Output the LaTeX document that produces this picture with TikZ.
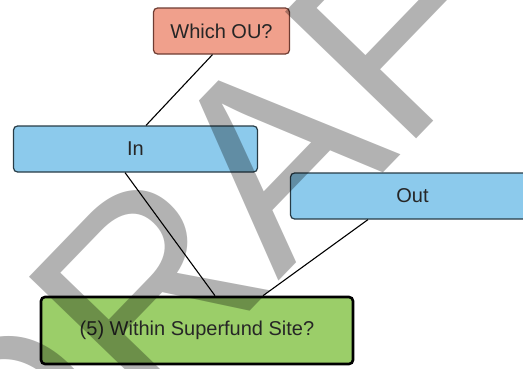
\documentclass[tikz,border=0pt]{standalone}
\usepackage{fontspec}
\setmainfont{Liberation Sans}
\definecolor{ouFill}{RGB}{240,160,140}
\definecolor{ouLine}{RGB}{110,60,50}
\definecolor{sideFill}{RGB}{140,202,236}
\definecolor{sideLine}{RGB}{40,60,70}
\definecolor{siteFill}{RGB}{155,206,105}
\tikzstyle{every picture}=[x=1pt,y=1pt]
\tikzstyle{box}=[rectangle, rounded corners=4pt, line width=1.2pt,
                 minimum height=46pt, inner sep=0pt,
                 font=\fontsize{20}{24}\selectfont, text=black!85]
\tikzstyle{link}=[line width=1.1pt]
\tikzstyle{wmark}=[inner sep=0pt, rotate=46, text=black, text opacity=0.3,
                   font=\fontsize{265}{265}\selectfont]

\begin{document}
\begin{tikzpicture}
  \useasboundingbox (0,0) rectangle (523,368);
  \clip (0,0) rectangle (523,368);
  \node[box, draw=ouLine, fill=ouFill, minimum width=136pt] (ou) at (221.5,337) {Which OU?};
  \node[box, draw=sideLine, fill=sideFill, minimum width=244pt] (in) at (135.5,219) {In};
  \node[box, draw=sideLine, fill=sideFill, minimum width=244pt] (out) at (412.5,172) {Out};
  \node[box, draw=black, line width=2.6pt, fill=siteFill,
        minimum width=312pt, minimum height=67pt] (site) at (197,37.5)
        {(5) Within Superfund Site?};
  \draw[link] ([xshift=-9pt]ou.south) -- ([xshift=10.5pt]in.north);
  \draw[link] ([xshift=-10.5pt]in.south) -- ([xshift=18pt]site.north);
  \draw[link] ([xshift=-44.5pt]out.south) -- ([xshift=66pt]site.north);
  % watermark
  \node[wmark] (draft) at (254,192) {DRAFT};
\end{tikzpicture}
\end{document}
